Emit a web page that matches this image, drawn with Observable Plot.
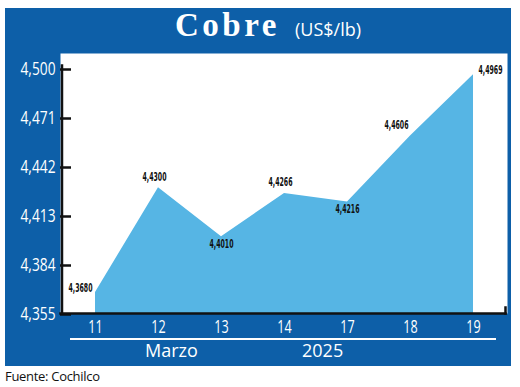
<!DOCTYPE html>
<html>
<head>
<meta charset="utf-8">
<script src="https://cdn.jsdelivr.net/npm/d3@7"></script>
<script src="https://cdn.jsdelivr.net/npm/@observablehq/plot@0.6"></script>
<style>
  html, body { margin: 0; padding: 0; background: #fff; }
  #wrap { position: relative; width: 520px; height: 387px; overflow: hidden; background: #fff; }
  #panel { position: absolute; left: 5px; top: 8px; width: 506px; height: 358px; background: #0d5fa8; }
  #chart { position: absolute; left: 0; top: 0; }
  .t { position: absolute; white-space: nowrap; line-height: 1; }
  #title { left: 175px; top: 9px; font-family: "Liberation Serif", "DejaVu Serif", serif; font-weight: bold; font-size: 33px; letter-spacing: 3.5px; color: #fff; }
  #unit { left: 295px; top: 20px; font-family: "Open Sans", "Noto Sans", sans-serif; font-size: 18px; color: #fff; }
  #sep { position: absolute; left: 70px; top: 338px; width: 426px; height: 2px; background: #fff; }
  .period { top: 341px; font-family: "Open Sans", "Noto Sans", sans-serif; font-size: 18px; color: #fff; }
  #month { left: 145px; }
  #year { left: 302px; }
  #source { left: 5px; top: 370px; font-family: "Open Sans", "Noto Sans", sans-serif; font-size: 13px; color: #111; letter-spacing: -0.3px; }
</style>
</head>
<body>
<div id="wrap">
  <div id="panel"></div>
  <div id="chart"></div>
  <div class="t" id="title">Cobre</div>
  <div class="t" id="unit">(US$/lb)</div>
  <div id="sep"></div>
  <div class="t period" id="month">Marzo</div>
  <div class="t period" id="year">2025</div>
  <div class="t" id="source">Fuente: Cochilco</div>
</div>
<script>
// ---- data ----
const days = ["11", "12", "13", "14", "17", "18", "19"];
const prices = [4.3680, 4.4300, 4.4010, 4.4266, 4.4216, 4.4606, 4.4969];
const yTicks = [4.355, 4.384, 4.413, 4.442, 4.471, 4.500];

// ---- label placement (style config) ----
const placement = ["left", "above", "below", "above", "below", "aboveLeft", "right"];

const data = days.map((d, i) => ({ day: d, price: prices[i], pos: placement[i] }));
const fmt4 = v => v.toFixed(4).replace(".", ",");
const fmt3 = v => v.toFixed(3).replace(".", ",");

const labelFont = { fontFamily: "'DejaVu Sans', sans-serif", fontWeight: "bold", fontSize: 12, fill: "#111" };
const lab = (pos, opts) => Plot.text(data.filter(d => d.pos === pos), { x: "day", y: "price", text: d => fmt4(d.price), ...labelFont, ...opts });
const axisFont = "'Open Sans', 'Noto Sans', sans-serif";

const chart = Plot.plot({
  width: 520,
  height: 387,
  marginLeft: 60,
  marginRight: 13,
  marginTop: 53,
  marginBottom: 74,
  style: { background: "transparent", overflow: "visible" },
  x: { type: "point", domain: days, range: [93, 474], padding: 0 },
  y: { domain: [yTicks[0], yTicks[yTicks.length - 1]], range: [314, 69] },
  marks: [
    Plot.frame({ fill: "white", stroke: "none" }),
    Plot.areaY(data, { x: "day", y1: () => yTicks[0], y2: "price", fill: "#56b5e4" }),
    Plot.tickY(yTicks, { y: d => d, insetRight: 436, stroke: "#111", strokeWidth: 2.5 }),
    Plot.frame({ anchor: "left", insetTop: 12, stroke: "#111", strokeWidth: 2.5, dx: 1.5 }),
    Plot.frame({ anchor: "bottom", insetRight: 2, stroke: "#111", strokeWidth: 2.5 }),
    Plot.frame({ anchor: "right", insetTop: 254, insetRight: 2, stroke: "#111", strokeWidth: 2.5 }),
    Plot.axisY(yTicks, { label: null, tickSize: 0, tickPadding: 5, tickFormat: fmt3, fill: "white", fontSize: 18, fontFamily: axisFont }),
    Plot.axisX(days, { label: null, tickSize: 0, tickPadding: 7, fill: "white", fontSize: 18, fontFamily: axisFont }),
    lab("left", { dx: -3, dy: -4, textAnchor: "end" }),
    lab("above", { dx: -4, dy: -11 }),
    lab("below", { dy: 7 }),
    lab("aboveLeft", { dx: -14, dy: -11 }),
    lab("right", { dx: 5, dy: -5, textAnchor: "start" })
  ]
});
// condense texts to match the narrow typeface of the original
const sel = d3.select(chart);
sel.selectAll('g[aria-label="y-axis tick label"] text').each(function () {
  const n = this.textContent.length;
  d3.select(this).attr("textLength", n * 7).attr("lengthAdjust", "spacingAndGlyphs");
});
sel.selectAll('g[aria-label="x-axis tick label"] text').each(function () {
  const n = this.textContent.length;
  d3.select(this).attr("textLength", n * 7.2).attr("lengthAdjust", "spacingAndGlyphs");
});
sel.selectAll('g[aria-label="text"] text').each(function () {
  const n = this.textContent.length;
  d3.select(this).attr("textLength", n * 4).attr("lengthAdjust", "spacingAndGlyphs");
});
document.getElementById("chart").appendChild(chart);
</script>
</body>
</html>
